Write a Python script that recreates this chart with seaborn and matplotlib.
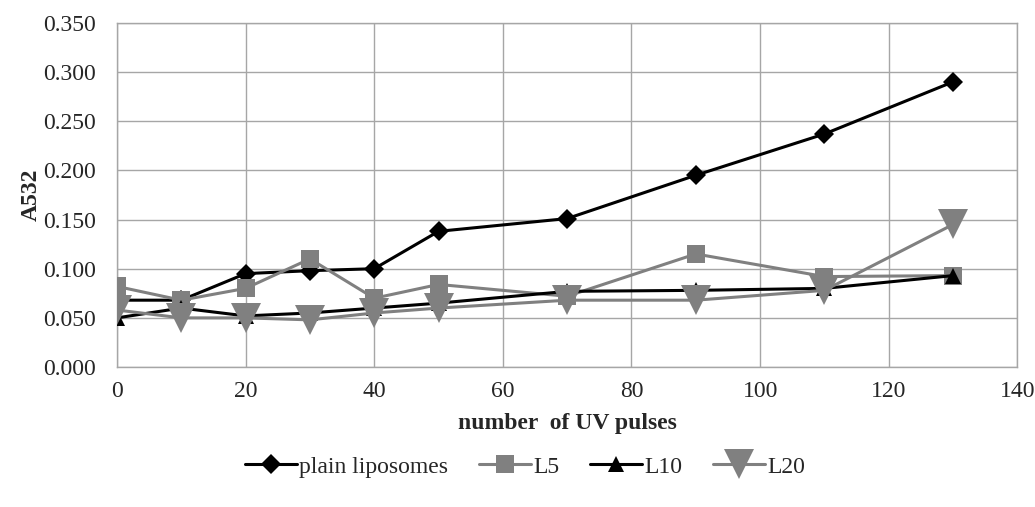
import pandas as pd
import matplotlib
matplotlib.use("Agg")
import matplotlib.pyplot as plt
import seaborn as sns

# --- Data ---
pulses = [0, 10, 20, 30, 40, 50, 70, 90, 110, 130]
plain = [0.068, 0.068, 0.095, 0.098, 0.100, 0.138, 0.151, 0.195, 0.237, 0.290]
l5 = [0.082, 0.068, 0.080, 0.110, 0.070, 0.084, 0.072, 0.115, 0.092, 0.093]
l10 = [0.050, 0.060, 0.052, 0.055, 0.060, 0.065, 0.077, 0.078, 0.080, 0.093]
l20 = [0.058, 0.050, 0.050, 0.048, 0.055, 0.060, 0.068, 0.068, 0.078, 0.145]
series_names = ["plain liposomes", "L5", "L10", "L20"]

sns.set_style("white")
plt.rcParams['font.family'] = ['Liberation Serif', 'DejaVu Serif']

fig, ax = plt.subplots(figsize=(10.35, 5.07), dpi=100)
fig.subplots_adjust(left=0.113, right=0.983, top=0.955, bottom=0.276)

styles = [
    dict(color="black", marker="D", markersize=10, lw=2.2),
    dict(color="#808080", marker="s", markersize=12.5, lw=2.2),
    dict(color="black", marker="^", markersize=11, lw=2.2),
    dict(color="#808080", marker="v", markersize=21, lw=2.2),
]

for name, vals, st in zip(series_names, [plain, l5, l10, l20], styles):
    df = pd.DataFrame({"x": pulses, "y": vals})
    sns.lineplot(data=df, x="x", y="y", ax=ax, color=st["color"], marker=st["marker"],
                 markersize=st["markersize"], linewidth=st["lw"], markeredgewidth=0,
                 label=name, zorder=3)

ax.set_xlim(0, 140)
ax.set_ylim(0, 0.35)
ax.set_xticks(range(0, 141, 20))
ax.set_yticks([i * 0.05 for i in range(8)])
ax.set_yticklabels([f"{i * 0.05:.3f}" for i in range(8)])
ax.tick_params(axis="y", labelsize=17, length=0, pad=15)
ax.tick_params(axis="x", labelsize=17, length=0, pad=10)
ax.grid(True, color="#a6a6a6", lw=1)
for sp in ax.spines.values():
    sp.set_color("#a6a6a6")
    sp.set_linewidth(1)

ax.set_xlabel("number  of UV pulses", fontsize=17, fontweight="bold", labelpad=8)
ax.set_ylabel("A532", fontsize=17, fontweight="bold", labelpad=1)

ax.legend(loc="upper center", bbox_to_anchor=(0.453, -0.197), ncol=4, frameon=False,
          fontsize=17, handlelength=2.2, handletextpad=0.1, columnspacing=1.3)

plt.savefig("out.png", dpi=100)
